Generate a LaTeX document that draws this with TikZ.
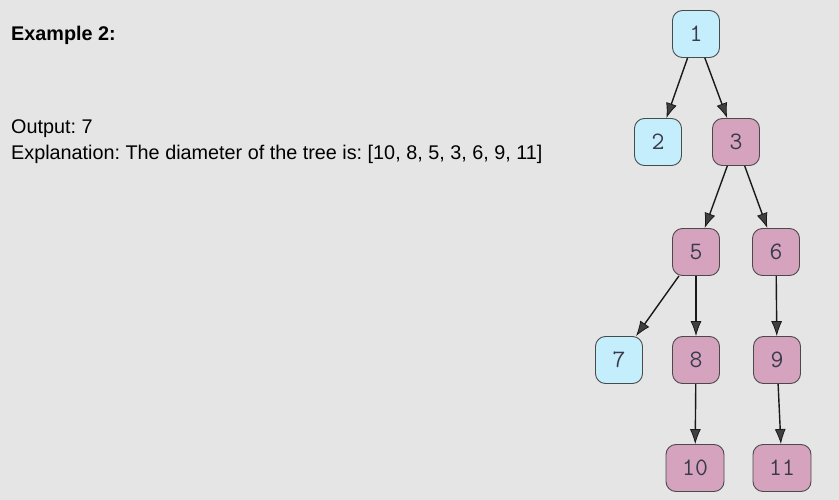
\documentclass[tikz,border=0pt]{standalone}
\usepackage{fontspec}
\setmainfont{Liberation Sans}
\setmonofont{Latin Modern Mono}
\usetikzlibrary{arrows.meta}
\definecolor{bg}{HTML}{E5E5E5}
\definecolor{blueN}{HTML}{C5EEFD}
\definecolor{pinkN}{HTML}{D6A3BE}
\definecolor{borderC}{HTML}{4A4A4A}
\definecolor{textN}{HTML}{3A3A4A}
\tikzset{
  tnode/.style={draw=borderC, line width=0.9pt, rounded corners=10pt, minimum width=47pt, minimum height=47pt, inner sep=0pt, font=\ttfamily\fontsize{25}{27}\selectfont, text=textN},
  wide/.style={minimum width=58pt},
  blue/.style={tnode, fill=blueN},
  pink/.style={tnode, fill=pinkN},
  edge/.style={draw=black!90, line width=1.4pt, -{Latex[length=15pt,width=11pt,fill=black!75,line width=0.8pt]}},
  txt/.style={anchor=base west, inner sep=0pt, font=\fontsize{19.8}{22}\selectfont}
}
\begin{document}
\frenchspacing
\begin{tikzpicture}[x=1pt,y=-1pt]
\fill[bg] (0,0) rectangle (839,500);
\useasboundingbox (0,0) rectangle (839,500);
\node[txt, font=\bfseries\fontsize{19.8}{22}\selectfont] (title) at (11,41) {Example 2:};
\node[txt] (out) at (11,134) {Output: 7};
\node[txt] (expl) at (11,160) {Explanation: The diameter of the tree is: [10, 8, 5, 3, 6, 9, 11]};
\node[blue] (n1) at (696,34) {1};
\node[blue] (n2) at (658,142) {2};
\node[pink] (n3) at (736,142) {3};
\node[pink] (n5) at (696,252) {5};
\node[pink] (n6) at (776,252) {6};
\node[blue] (n7) at (619,360) {7};
\node[pink] (n8) at (696,360) {8};
\node[pink] (n9) at (777,360) {9};
\node[pink, wide] (n10) at (695,468) {10};
\node[pink, wide] (n11) at (782,468) {11};
\draw[edge] (n1) -- (n2);
\draw[edge] (n1) -- (n3);
\draw[edge] (n3) -- (n5);
\draw[edge] (n3) -- (n6);
\draw[edge] (n5) -- (n7);
\draw[edge] (n5) -- (n8);
\draw[edge] (n6) -- (n9);
\draw[edge] (n8) -- (n10);
\draw[edge] (n9) -- (n11);
\end{tikzpicture}
\end{document}
